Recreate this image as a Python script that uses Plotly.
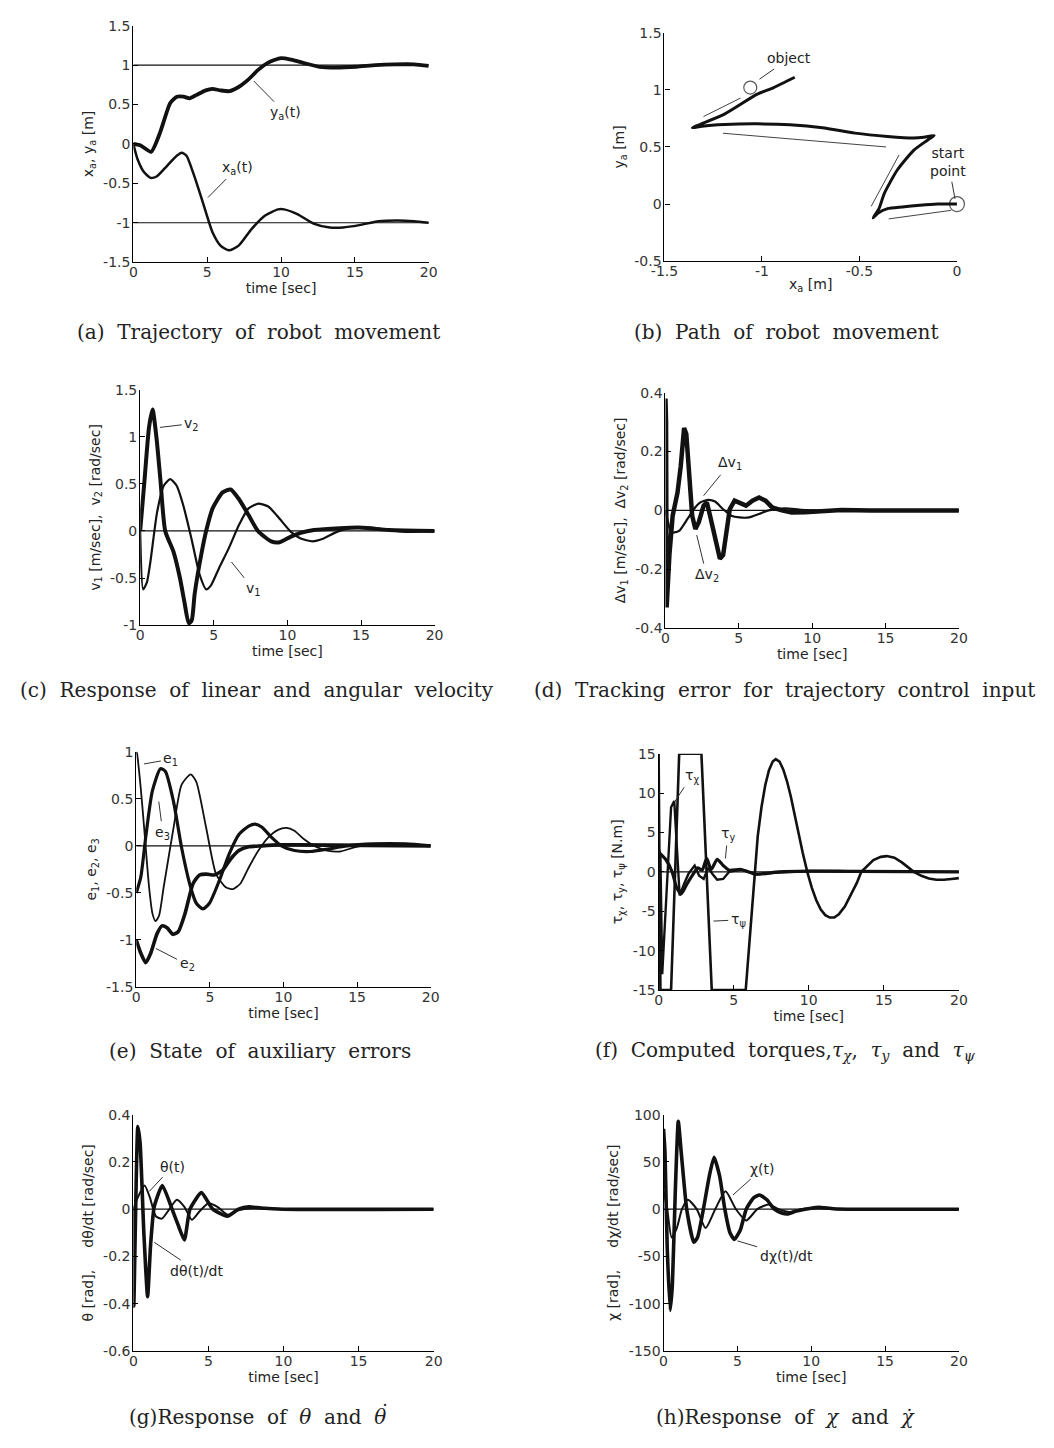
import plotly.graph_objects as go

W, H = 1054, 1448

# ---------------- data ----------------
# (a) trajectory
t_ya = [0, 0.5, 1.2, 1.8, 2.5, 2.95, 3.4, 3.8, 4.25, 4.9, 5.35, 5.9, 6.5, 7.1, 7.8, 8.45, 9.1, 10.0, 10.7, 11.5, 12.6, 13.7, 15.1, 16.4, 17.7, 19.0, 20.0]
ya = [0, -0.02, -0.1, 0.14, 0.52, 0.6, 0.6, 0.58, 0.62, 0.68, 0.7, 0.68, 0.67, 0.72, 0.82, 0.94, 1.03, 1.09, 1.07, 1.03, 0.98, 0.97, 0.98, 1.0, 1.01, 1.01, 0.99]
t_xa = [0, 0.3, 0.73, 1.17, 1.6, 2.27, 2.94, 3.27, 3.6, 4.04, 4.5, 4.92, 5.36, 5.9, 6.47, 7.13, 8.0, 8.9, 9.8, 10.2, 11.1, 12.2, 13.3, 14.2, 15.3, 16.6, 17.9, 19.0, 20.0]
xa = [0, -0.2, -0.36, -0.43, -0.41, -0.28, -0.15, -0.11, -0.15, -0.36, -0.62, -0.87, -1.12, -1.29, -1.35, -1.29, -1.08, -0.91, -0.83, -0.83, -0.89, -1.01, -1.06, -1.06, -1.03, -0.98, -0.97, -0.98, -1.0]
ref_a = [1, -1]

# (b) path
path_x = [0, -0.1, -0.19, -0.28, -0.356, -0.406, -0.43, -0.40, -0.372, -0.306, -0.222, -0.155, -0.117,
          -0.17, -0.222, -0.356, -0.523, -0.69, -0.857, -1.024, -1.19, -1.308, -1.357,
          -1.19, -1.024, -0.94, -0.832]
path_y = [0, 0.0, -0.01, -0.025, -0.04, -0.08, -0.12, -0.04, 0.095, 0.298, 0.47, 0.555, 0.6,
          0.585, 0.578, 0.592, 0.621, 0.668, 0.694, 0.702, 0.697, 0.682, 0.667,
          0.79, 0.962, 1.02, 1.11]
arrow_x0 = [-0.03, -0.297, -0.364, -1.30]
arrow_y0 = [-0.055, 0.43, 0.50, 0.766]
arrow_x1 = [-0.35, -0.44, -1.20, -1.11]
arrow_y1 = [-0.13, -0.02, 0.62, 0.928]
marks_x = [-1.06, 0.0]
marks_y = [1.02, 0.0]

# (c) velocities
t_v2 = [0, 0.3, 0.6, 0.84, 1.1, 1.37, 1.7, 2.26, 2.7, 3.0, 3.3, 3.5, 3.7, 4.15, 4.48, 4.92, 5.6, 6.14, 6.7, 7.36, 8.0, 8.9, 9.47, 10.24, 10.9, 11.8, 13.57, 15.1, 16.9, 20]
v2 = [0, 0.55, 1.1, 1.29, 1.0, 0.55, 0, -0.22, -0.5, -0.75, -0.98, -0.95, -0.67, -0.25, 0, 0.24, 0.41, 0.44, 0.34, 0.17, 0, -0.11, -0.12, -0.06, -0.02, 0.01, 0.03, 0.035, 0.01, 0]
t_v1 = [0, 0.2, 0.45, 0.7, 1.15, 1.6, 2.04, 2.48, 2.93, 3.48, 4.03, 4.48, 4.8, 5.37, 6.03, 6.7, 7.36, 8.03, 8.7, 9.36, 10.24, 10.9, 11.7, 12.46, 13.35, 14.2, 15.3, 16.45, 18, 20]
v1 = [0, -0.62, -0.55, -0.32, 0.2, 0.48, 0.55, 0.48, 0.27, -0.08, -0.46, -0.62, -0.58, -0.39, -0.18, 0.06, 0.24, 0.29, 0.26, 0.15, -0.01, -0.08, -0.11, -0.08, -0.01, 0.03, 0.04, 0.02, -0.01, 0]

# (d) tracking errors
t_dv2 = [0, 0.04, 0.08, 0.27, 0.49, 0.82, 1.04, 1.27, 1.42, 1.6, 1.82, 2.04, 2.27, 2.6, 2.82, 3.04, 3.38, 3.71, 3.93, 4.16, 4.38, 4.71, 5.16, 5.49, 5.93, 6.38, 6.82, 7.27, 7.93, 8.6, 9.5, 10.5, 12, 14, 20]
dv2 = [0.38, 0.3, -0.33, -0.15, -0.018, 0.06, 0.15, 0.28, 0.26, 0.117, -0.018, -0.063, -0.04, 0.016, 0.027, -0.018, -0.096, -0.164, -0.152, -0.063, 0.004, 0.033, 0.021, 0.016, 0.033, 0.044, 0.033, 0.01, 0, -0.007, -0.006, -0.004, 0.001, 0.0, 0]
t_dv1 = [0, 0.4, 0.6, 0.93, 1.49, 1.93, 2.38, 2.93, 3.38, 3.93, 4.49, 5.04, 5.7, 6.38, 7.04, 8.16, 9.27, 11, 20]
dv1 = [0, -0.075, -0.075, -0.07, -0.03, 0.004, 0.027, 0.036, 0.03, 0.004, -0.018, -0.024, -0.024, -0.012, 0, 0.007, 0.002, 0, 0]

# (e) auxiliary errors
t_e1 = [0, 0.05, 0.3, 0.53, 0.87, 1.1, 1.31, 1.55, 1.86, 2.53, 3.08, 3.7, 4.08, 4.75, 5.42, 6.08, 6.57, 7.08, 7.64, 8.3, 8.97, 9.63, 10.2, 10.74, 11.4, 12.08, 12.96, 13.85, 14.74, 15.6, 17.4, 20]
e1 = [1.0, 0.98, 0.62, 0.2, -0.44, -0.72, -0.8, -0.74, -0.44, 0.19, 0.65, 0.76, 0.68, 0.19, -0.3, -0.44, -0.46, -0.4, -0.23, -0.05, 0.09, 0.17, 0.19, 0.16, 0.07, 0, -0.05, -0.06, -0.02, 0.01, 0.02, 0]
t_e3 = [0, 0.31, 0.64, 1.09, 1.64, 1.98, 2.53, 3.08, 3.64, 4.08, 4.53, 4.97, 5.64, 6.3, 6.97, 7.64, 8.08, 8.52, 9.19, 9.86, 10.74, 11.85, 12.96, 14.3, 16.07, 18.3, 20]
e3 = [-0.5, -0.33, 0.09, 0.58, 0.82, 0.79, 0.47, -0.02, -0.41, -0.61, -0.67, -0.61, -0.37, -0.09, 0.12, 0.21, 0.23, 0.2, 0.09, 0, -0.05, -0.06, -0.035, 0, 0.02, 0.02, 0]
t_e2 = [0, 0.31, 0.64, 0.98, 1.42, 1.75, 2.09, 2.49, 2.86, 3.31, 3.86, 4.3, 4.75, 5.3, 5.86, 6.41, 6.97, 7.64, 8.52, 9.63, 11, 20]
e2 = [-1.0, -1.14, -1.24, -1.14, -0.93, -0.85, -0.87, -0.94, -0.91, -0.72, -0.4, -0.31, -0.3, -0.31, -0.26, -0.14, -0.05, -0.01, 0, 0.01, 0.01, 0]

# (f) torques
t_tpsi = [0, 0.12, 0.83, 1.37, 2.85, 3.54, 5.8, 6.1, 6.37, 6.6, 6.85, 7.1, 7.35, 7.6, 7.8, 8.05, 8.3, 8.55, 8.8, 9.05, 9.3, 9.6, 9.9,
          10.2, 10.5, 10.8, 11.1, 11.4, 11.7, 12.0, 12.4, 12.8, 13.2, 13.5, 13.9, 14.3, 14.8, 15.2, 15.7, 16.2, 16.6, 17.0,
          17.5, 18.0, 18.5, 19.0, 19.5, 20.0]
tpsi = [15, -15, -15, 15, 15, -15, -15, -7.5, 0, 4.5, 8.2, 11.0, 12.9, 14.0, 14.3, 14.0, 13.0, 11.5, 9.6, 7.3, 5.0, 2.4, 0,
        -2.0, -3.6, -4.8, -5.5, -5.8, -5.8, -5.4, -4.4, -3.0, -1.4, 0, 0.8, 1.5, 1.9, 2.0, 1.8, 1.2, 0.6, 0,
        -0.5, -0.85, -1.0, -1.0, -0.9, -0.8]
t_tchi = [0, 0.12, 0.24, 0.5, 0.83, 1.04, 1.2, 1.4, 1.7, 2.0, 2.4, 2.7, 3.0, 3.3, 3.6, 3.9, 4.3, 4.7, 5.5, 6.5, 8, 10, 12, 14, 20]
tchi = [3, 2, -13, -4, 8.2, 9, 3, -3, -1.5, -0.2, 0.8, -0.5, -0.9, 0.5, -0.3, -1.0, -0.9, 0, 0.3, -0.3, -0.1, 0.1, 0.1, 0, 0]
t_ty = [0, 0.5, 0.9, 1.2, 1.5, 1.9, 2.3, 2.6, 2.9, 3.2, 3.5, 3.9, 4.3, 4.7, 5.5, 6.5, 8, 10, 20]
ty = [2.5, 1.5, 0, -2, -2.8, -1.5, -0.3, 0.5, 0.2, 1.7, 0.3, 1.6, 0.8, 0.2, 0.3, -0.3, 0, 0.1, 0]

# (g) theta
t_dth = [0, 0.03, 0.3, 0.45, 0.7, 0.95, 1.15, 1.39, 1.93, 2.58, 3.0, 3.4, 3.77, 4.53, 5.29, 6.26, 7.0, 7.7, 8.5, 10, 20]
dth = [0, -0.41, 0.35, 0.28, -0.1, -0.37, -0.15, 0.01, 0.1, 0, -0.07, -0.13, 0, 0.07, 0, -0.03, 0, 0.01, 0.005, 0, 0]
t_th = [0, 0.3, 0.75, 1.1, 1.5, 1.9, 2.4, 2.9, 3.4, 3.9, 4.4, 5.0, 5.6, 6.3, 7.0, 8, 10, 20]
th = [0, 0.05, 0.1, 0.05, -0.03, -0.04, 0, 0.04, 0.01, -0.045, -0.01, 0.025, 0.01, -0.024, -0.005, 0.005, 0, 0]

# (h) chi
t_dchi = [0, 0.1, 0.25, 0.45, 0.6, 0.8, 1.0, 1.2, 1.57, 2.05, 2.3, 2.7, 3.1, 3.42, 3.8, 4.15, 4.5, 4.8, 5.2, 5.6, 6.1, 6.5, 7.0, 7.5, 8.0, 8.4, 9.0, 10.0, 10.5, 11.5, 13, 20]
dchi = [85, 60, -40, -107, -80, 20, 93, 60, 0, -35, -30, 0, 35, 55, 35, 0, -25, -32, -22, 0, 12, 15, 10, 0, -4, -5, -2, 1, 2, 0.5, 0, 0]
t_chi = [0, 0.25, 0.55, 0.9, 1.25, 1.65, 2.25, 2.85, 3.5, 4.2, 4.9, 5.6, 6.35, 7.1, 7.8, 8.5, 9.3, 10.5, 12, 20]
chi = [20, 0, -30, -20, 0, 10, 0, -20, 0, 19, 0, -12, 0, 5, 0, -3, 0, 1, 0, 0]

# tick labels
time_ticks = [0, 5, 10, 15, 20]
time_ticktext = ["0", "5", "10", "15", "20"]

# ---------------- layout helpers ----------------
# panel boxes in page pixels: left, right, top, bottom
boxes = [
    (122, 424, 18, 257),   # a
    (665, 964, 25, 256),   # b
    (129, 430, 386, 624),  # c
    (666, 966, 389, 627),  # d
    (125, 426, 752, 990),  # e
    (659, 966, 754, 993),  # f
    (122, 429, 1119, 1358),  # g
    (664, 966, 1119, 1358),  # h
]

SANS = "DejaVu Sans, Verdana, sans-serif"
TICKFONT = dict(family=SANS, size=14, color="#333")
LBLFONT = dict(family=SANS, size=14, color="#222")
CAPFONT = dict(family="DejaVu Serif, serif", size=20, color="#222")
INK = "#111"

fig = go.Figure()
layout = dict(width=W, height=H, margin=dict(l=0, r=0, t=0, b=0),
              paper_bgcolor="white", plot_bgcolor="white", showlegend=False)


def ax_names(i):
    return ("x" if i == 1 else f"x{i}"), ("y" if i == 1 else f"y{i}")


def set_axes(i, xr, xt, xtt, yr, yt, ytt, xtitle, ytitle):
    l, r, t, b = boxes[i - 1]
    xk = "xaxis" if i == 1 else f"xaxis{i}"
    yk = "yaxis" if i == 1 else f"yaxis{i}"
    xn, yn = ax_names(i)
    common = dict(showline=True, linecolor="black", linewidth=1.2, ticks="inside",
                  ticklen=5, tickwidth=1, tickcolor="black", showgrid=False,
                  zeroline=False, tickfont=TICKFONT, mirror=False, fixedrange=True)
    layout[xk] = dict(common, domain=[l / W, r / W], anchor=yn, range=xr,
                      tickvals=xt, ticktext=xtt, ticklabelstandoff=-3,
                      title=dict(text=xtitle, font=LBLFONT, standoff=1))
    layout[yk] = dict(common, domain=[1 - b / H, 1 - t / H], anchor=xn, range=yr,
                      tickvals=yt, ticktext=ytt, ticklabelstandoff=-1,
                      title=dict(text=ytitle, font=LBLFONT, standoff=6))


def line(i, x, y, width, shape="spline", color=INK, smoothing=0.6):
    xn, yn = ax_names(i)
    ld = dict(color=color, width=width, shape=shape)
    if shape == "spline":
        ld["smoothing"] = smoothing
    fig.add_trace(go.Scatter(x=x, y=y, mode="lines", line=ld, xaxis=xn, yaxis=yn,
                             hoverinfo="skip"))


annotations = []


def label(i, text, tip, pos):
    xn, yn = ax_names(i)
    annotations.append(dict(x=tip[0], y=tip[1], ax=pos[0], ay=pos[1], xref=xn, yref=yn,
                            axref=xn, ayref=yn, text=text, showarrow=True, arrowhead=0,
                            arrowwidth=1, arrowcolor="#333", font=LBLFONT,
                            standoff=0, borderpad=2))


def caption(text, cx, cy, size=20):
    annotations.append(dict(x=cx / W, y=1 - cy / H, xref="paper", yref="paper",
                            text=text, showarrow=False, font=dict(CAPFONT, size=size),
                            xanchor="center", yanchor="middle"))


# ---------------- (a) ----------------
set_axes(1, [0, 20], time_ticks, time_ticktext, [-1.5, 1.5],
         [-1.5, -1, -0.5, 0, 0.5, 1, 1.5], ["-1.5", "-1", "-0.5", "0", "0.5", "1", "1.5"],
         "time [sec]", "x<sub>a</sub>, y<sub>a</sub> [m]")
for rv in ref_a:
    line(1, [0, 20], [rv, rv], 1.2, shape="linear")
line(1, t_xa, xa, 2.5)
line(1, t_ya, ya, 3.8)
label(1, "y<sub>a</sub>(t)", (8.15, 0.8), (10.3, 0.39))
label(1, "x<sub>a</sub>(t)", (5.05, -0.68), (7.05, -0.30))
caption("(a)\u00a0 Trajectory\u00a0 of\u00a0 robot\u00a0 movement", 250, 328)

# ---------------- (b) ----------------
set_axes(2, [-1.5, 0], [-1.5, -1, -0.5, 0], ["-1.5", "-1", "-0.5", "0"], [-0.5, 1.5],
         [-0.5, 0, 0.5, 1, 1.5], ["-0.5", "0", "0.5", "1", "1.5"],
         "x<sub>a</sub> [m]", "y<sub>a</sub> [m]")
line(2, path_x, path_y, 3.0, shape="spline")
ax_, ay_ = [], []
for x0, y0, x1, y1 in zip(arrow_x0, arrow_y0, arrow_x1, arrow_y1):
    ax_ += [x0, x1, None]
    ay_ += [y0, y1, None]
line(2, ax_, ay_, 1.0, shape="linear", color="#444")
fig.add_trace(go.Scatter(x=marks_x, y=marks_y, mode="markers", xaxis="x2", yaxis="y2",
                         cliponaxis=False,
                         marker=dict(symbol="circle-open", size=[13, 15], color=INK,
                                     line=dict(width=1.2, color=INK)), hoverinfo="skip"))
label(2, "object", (-1.013, 1.093), (-0.86, 1.275))
label(2, "start<br>point", (-0.01, 0.045), (-0.045, 0.366))
caption("(b)\u00a0 Path\u00a0 of\u00a0 robot\u00a0 movement", 789, 328)

# ---------------- (c) ----------------
set_axes(3, [0, 20], time_ticks, time_ticktext, [-1, 1.5],
         [-1, -0.5, 0, 0.5, 1, 1.5], ["-1", "-0.5", "0", "0.5", "1", "1.5"],
         "time [sec]", "v<sub>1</sub> [m/sec],  v<sub>2</sub> [rad/sec]")
line(3, [0, 20], [0, 0], 1.2, shape="linear")
line(3, t_v1, v1, 2.2)
line(3, t_v2, v2, 4.0)
label(3, "v<sub>2</sub>", (1.35, 1.1), (3.5, 1.14))
label(3, "v<sub>1</sub>", (6.2, -0.33), (7.7, -0.62))
caption("(c)\u00a0 Response\u00a0 of\u00a0 linear\u00a0 and\u00a0 angular\u00a0 velocity", 248, 690)

# ---------------- (d) ----------------
set_axes(4, [0, 20], time_ticks, time_ticktext, [-0.4, 0.4],
         [-0.4, -0.2, 0, 0.2, 0.4], ["-0.4", "-0.2", "0", "0.2", "0.4"],
         "time [sec]", "\u0394v<sub>1</sub> [m/sec],  \u0394v<sub>2</sub> [rad/sec]")
line(4, [0, 20], [0, 0], 1.2, shape="linear")
line(4, t_dv1, dv1, 2.2)
line(4, t_dv2, dv2, 4.5, shape="linear")
label(4, "\u0394v<sub>1</sub>", (2.6, 0.05), (4.4, 0.16))
label(4, "\u0394v<sub>2</sub>", (2.13, -0.084), (2.8, -0.22))
caption("(d)\u00a0 Tracking\u00a0 error\u00a0 for\u00a0 trajectory\u00a0 control\u00a0 input", 788, 690)

# ---------------- (e) ----------------
set_axes(5, [0, 20], time_ticks, time_ticktext, [-1.5, 1],
         [-1.5, -1, -0.5, 0, 0.5, 1], ["-1.5", "-1", "-0.5", "0", "0.5", "1"],
         "time [sec]", "e<sub>1</sub>, e<sub>2</sub>, e<sub>3</sub>")
line(5, [0, 20], [0, 0], 1.2, shape="linear")
line(5, t_e1, e1, 1.8)
line(5, t_e3, e3, 3.2)
line(5, t_e2, e2, 3.6)
label(5, "e<sub>1</sub>", (0.53, 0.87), (2.35, 0.92))
label(5, "e<sub>3</sub>", (1.53, 0.47), (1.8, 0.14))
label(5, "e<sub>2</sub>", (1.33, -1.09), (3.45, -1.26))
caption("(e)\u00a0 State\u00a0 of\u00a0 auxiliary\u00a0 errors", 251, 1055)

# ---------------- (f) ----------------
set_axes(6, [0, 20], time_ticks, time_ticktext, [-15, 15],
         [-15, -10, -5, 0, 5, 10, 15], ["-15", "-10", "-5", "0", "5", "10", "15"],
         "time [sec]", "\u03c4<sub>\u03c7</sub>, \u03c4<sub>y</sub>, \u03c4<sub>\u03c8</sub> [N.m]")
line(6, [0, 20], [0, 0], 1.2, shape="linear")
line(6, t_tpsi, tpsi, 2.6, shape="linear")
line(6, t_tchi, tchi, 2.4, shape="linear")
line(6, t_ty, ty, 3.2)
label(6, "\u03c4<sub>\u03c7</sub>", (1.04, 8.8), (2.2, 12.2))
label(6, "\u03c4<sub>y</sub>", (4.45, 1.7), (4.6, 4.8))
label(6, "\u03c4<sub>\u03c8</sub>", (3.65, -6.25), (5.3, -6.1))
caption("(f)\u00a0 Computed\u00a0 torques,<i>\u03c4</i><sub><i>\u03c7</i></sub>,\u00a0 <i>\u03c4</i><sub><i>y</i></sub>\u00a0 and\u00a0 <i>\u03c4</i><sub><i>\u03c8</i></sub>", 789, 1055)

# ---------------- (g) ----------------
set_axes(7, [0, 20], time_ticks, time_ticktext, [-0.6, 0.4],
         [-0.6, -0.4, -0.2, 0, 0.2, 0.4], ["-0.6", "-0.4", "-0.2", "0", "0.2", "0.4"],
         "time [sec]", "\u03b8 [rad],\u00a0\u00a0\u00a0\u00a0 d\u03b8/dt [rad/sec]")
line(7, [0, 20], [0, 0], 1.2, shape="linear")
line(7, t_th, th, 2.0)
line(7, t_dth, dth, 3.6, smoothing=0.5)
label(7, "\u03b8(t)", (1.06, 0.075), (2.6, 0.18))
label(7, "d\u03b8(t)/dt", (1.39, -0.14), (4.2, -0.26))
caption("(g)Response\u00a0 of\u00a0 <i>\u03b8</i>\u00a0 and\u00a0 <i>\u03b8</i>", 249, 1425)
caption("\u02d9", 379, 1420)

# ---------------- (h) ----------------
set_axes(8, [0, 20], time_ticks, time_ticktext, [-150, 100],
         [-150, -100, -50, 0, 50, 100], ["-150", "-100", "-50", "0", "50", "100"],
         "time [sec]", "\u03c7 [rad],\u00a0\u00a0\u00a0\u00a0 d\u03c7/dt [rad/sec]")
line(8, [0, 20], [0, 0], 1.2, shape="linear")
line(8, t_chi, chi, 2.0)
line(8, t_dchi, dchi, 3.6, smoothing=0.5)
label(8, "\u03c7(t)", (4.7, 15), (6.7, 43))
label(8, "d\u03c7(t)/dt", (5.0, -33.5), (8.3, -49))
caption("(h)Response\u00a0 of\u00a0 <i>\u03c7</i>\u00a0 and\u00a0 <i>\u03c7\u0307</i>", 789, 1425)

layout["annotations"] = annotations
fig.update_layout(**layout)
fig.write_html("out.html")
